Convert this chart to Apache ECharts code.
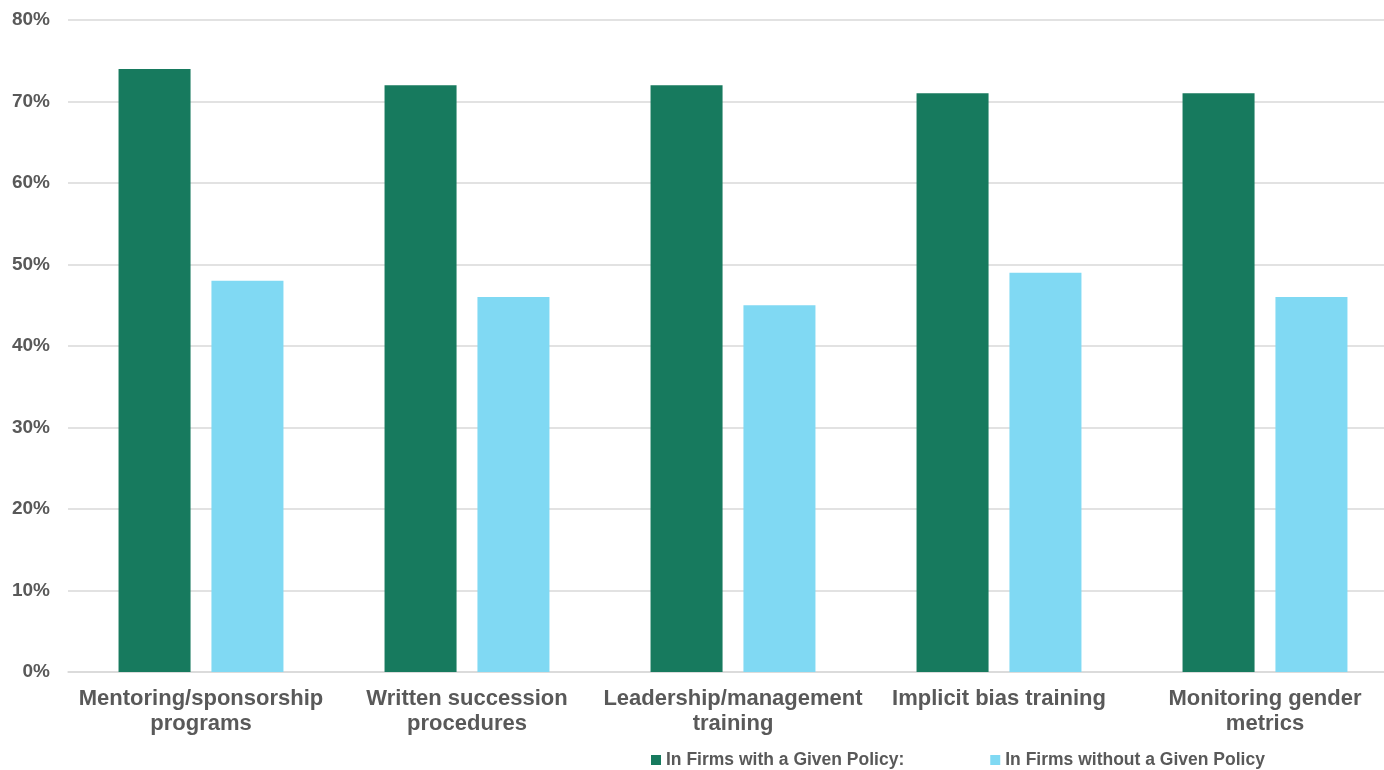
<!DOCTYPE html>
<html>
<head>
<meta charset="utf-8">
<script src="https://cdn.jsdelivr.net/npm/echarts@6/dist/echarts.min.js"></script>
<style>
  html, body { margin: 0; padding: 0; background: #fff; }
  #main { width: 1384px; height: 770px; }
</style>
</head>
<body>
<div id="main"></div>
<script>
var categories = [
  'Mentoring/sponsorship\nprograms',
  'Written succession\nprocedures',
  'Leadership/management\ntraining',
  'Implicit bias training',
  'Monitoring gender\nmetrics'
];
var withPolicy = [74, 72, 72, 71, 71];
var withoutPolicy = [48, 46, 45, 49, 46];
var seriesNames = ['In Firms with a Given Policy:', 'In Firms without a Given Policy'];

var chart = echarts.init(document.getElementById('main'));

var labelColor = '#595959';
var fontFamily = '"Liberation Sans", Arial, sans-serif';

var option = {
  animation: false,
  // plot runs a little past the right edge, as in the source image
  grid: { left: 68, width: 1330, top: 20, bottom: 98, outerBoundsMode: 'none' },
  legend: {
    top: 746,
    left: 646,
    itemWidth: 10,
    itemHeight: 10,
    itemGap: 86,
    icon: 'rect',
    textStyle: { color: labelColor, fontSize: 17.5, fontWeight: 'bold', fontFamily: fontFamily },
    data: seriesNames
  },
  xAxis: {
    type: 'category',
    data: categories,
    axisLine: { lineStyle: { color: '#d9d9d9', width: 1.5 } },
    axisTick: { show: false },
    axisLabel: {
      color: labelColor,
      fontSize: 22,
      fontWeight: 'bold',
      fontFamily: fontFamily,
      lineHeight: 25,
      margin: 14,
      interval: 0
    }
  },
  yAxis: {
    type: 'value',
    min: 0,
    max: 80,
    interval: 10,
    axisLabel: {
      formatter: '{value}%',
      color: labelColor,
      fontSize: 19,
      fontWeight: 'bold',
      fontFamily: fontFamily,
      margin: 18
    },
    splitLine: { lineStyle: { color: '#d9d9d9', width: 1.5 } },
    axisLine: { show: false },
    axisTick: { show: false }
  },
  series: [
    {
      name: seriesNames[0],
      type: 'bar',
      data: withPolicy,
      barGap: '29%',
      barCategoryGap: '38%',
      itemStyle: { color: '#177A5E' }
    },
    {
      name: seriesNames[1],
      type: 'bar',
      data: withoutPolicy,
      itemStyle: { color: '#80D9F3' }
    }
  ]
};

chart.setOption(option);
</script>
</body>
</html>
